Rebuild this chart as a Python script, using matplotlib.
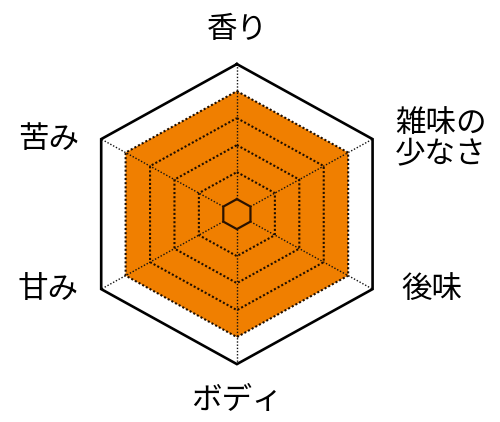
import numpy as np
import matplotlib.pyplot as plt

plt.rcParams['font.family'] = ['Noto Sans CJK JP', 'DejaVu Sans']

# chart data
categories = ['香り', '雑味の\n少なさ', '後味', 'ボディ', '甘み', '苦み']
values = [4, 4, 4, 4, 4, 4]
levels = [0, 1, 2, 3, 4, 5]

ORIGIN = 0.556  # radius where value 0 sits (the small solid hexagon)
FILL = '#F07F00'
# label gap from the outer vertex, in points
label_pad = [14, 16, 21, 15, 16, 16]

angles = np.arange(len(categories)) * 2 * np.pi / len(categories)
closed = np.append(angles, angles[0])


def to_xy(vals, ang):
    u = np.asarray(vals, dtype=float) + ORIGIN
    return u * np.sin(ang), u * np.cos(ang)


fig = plt.figure(figsize=(5.0, 4.22), dpi=100)
ax = fig.add_axes([0, 0, 1, 1])
ax.set_xlim(-8.40, 9.33)
ax.set_ylim(-7.70, 7.93)
ax.axis('off')

# filled series
fx, fy = to_xy(np.append(values, values[0]), closed)
ax.fill(fx, fy, color=FILL, lw=0, zorder=1)

# hexagonal grid rings
for lv in levels:
    x, y = to_xy(np.full(len(closed), lv), closed)
    if lv == levels[0]:
        ax.plot(x, y, color='#2a1200', lw=1.6, zorder=4)
    elif lv == levels[-1]:
        ax.plot(x, y, color='black', lw=1.9, zorder=4, solid_joinstyle='miter')
    else:
        ax.plot(x, y, color='#1e0e00', lw=1.5, ls=(0, (1, 1)), zorder=3)

# spokes
for a in angles:
    x, y = to_xy([levels[0], levels[-1]], [a, a])
    ax.plot(x, y, color='#111111', lw=1.0, ls=(0, (1, 1.3)), zorder=2)

# category labels
r_lab = levels[-1]
for name, a, pad in zip(categories, angles, label_pad):
    vx, vy = to_xy([r_lab], [a])
    s = np.sin(a)
    if abs(s) < 0.1:
        up = np.cos(a) > 0
        ax.annotate(name, (vx[0], vy[0]), xytext=(0, pad if up else -pad),
                    textcoords='offset points', ha='center',
                    va='bottom' if up else 'top', fontsize=22)
    else:
        ax.annotate(name, (vx[0], vy[0]), xytext=(pad if s > 0 else -pad, 0),
                    textcoords='offset points', ha='left' if s > 0 else 'right',
                    va='center', fontsize=22, linespacing=1.0)

fig.savefig('out.png', dpi=100)
